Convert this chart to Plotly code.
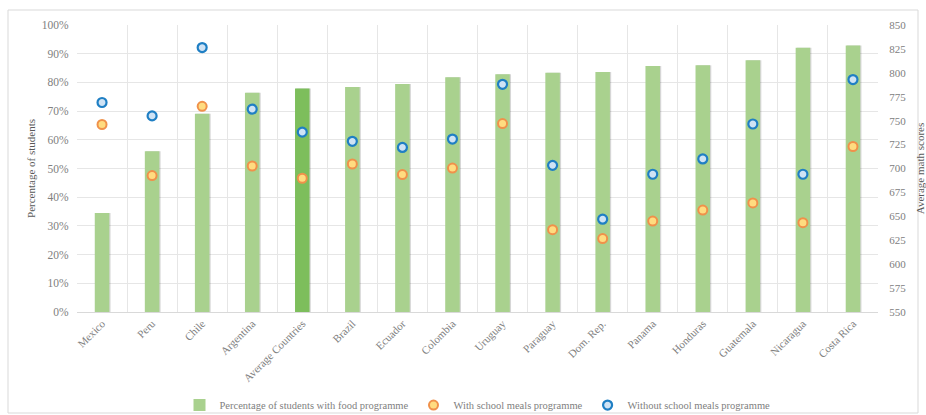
import plotly.graph_objects as go

countries = ["Mexico", "Peru", "Chile", "Argentina", "Average Countries", "Brazil", "Ecuador",
             "Colombia", "Uruguay", "Paraguay", "Dom. Rep.", "Panama", "Honduras", "Guatemala",
             "Nicaragua", "Costa Rica"]
pct_food = [34.5, 56.0, 69.1, 76.4, 77.9, 78.4, 79.4, 81.8, 82.8, 83.4, 83.6, 85.7, 86.0, 87.7, 92.1, 92.9]
with_meals = [746, 692.6, 765, 702.6, 689.8, 704.7, 693.6, 700.5, 747, 636, 626.7, 645, 656.6, 664, 643.4, 723]
without_meals = [769, 755, 826.4, 762, 738, 728.4, 722, 730.8, 788, 703.3, 647, 694, 710, 746.5, 694, 793]

left_ticks = list(range(0, 101, 10))
right_ticks = list(range(550, 851, 25))

bar_colors = ["#7DBE5C" if c == "Average Countries" else "#A9D18E" for c in countries]
FONT = "Liberation Serif"
GRAY = "#595959"
TICK = "#808080"

fig = go.Figure()
# soft shadow behind bars
fig.add_trace(go.Bar(x=countries, y=pct_food, width=0.29, offset=-0.12,
                     marker=dict(color="rgba(0,0,0,0.16)", line=dict(width=0)),
                     showlegend=False, hoverinfo="skip"))
fig.add_trace(go.Bar(x=countries, y=pct_food, width=0.29, offset=-0.145,
                     marker=dict(color=bar_colors, line=dict(width=0)),
                     name="Percentage of students with food programme"))
fig.add_trace(go.Scatter(x=countries, y=with_meals, yaxis="y2", mode="markers",
                         marker=dict(size=9, color="#FFDC80", line=dict(color="#F0914A", width=2)),
                         name="With school meals programme"))
fig.add_trace(go.Scatter(x=countries, y=without_meals, yaxis="y2", mode="markers",
                         marker=dict(size=9, color="#CFE3F5", line=dict(color="#1F7FC4", width=2.2)),
                         name="Without school meals programme"))

fig.update_layout(
    width=926, height=415,
    margin=dict(l=77, r=48, t=25, b=103, autoexpand=False),
    paper_bgcolor="white", plot_bgcolor="white",
    barmode="overlay",
    font=dict(family=FONT, size=11, color=GRAY),
    xaxis=dict(type="category", range=[-0.5, len(countries) - 0.5], tickson="boundaries",
               showgrid=True, gridcolor="#E6E6E6",
               tickangle=-45, ticks="", showline=True, linecolor="#D9D9D9", automargin=False,
               tickfont=dict(family=FONT, size=11, color=TICK)),
    yaxis=dict(range=[0, 100], tickvals=left_ticks, ticktext=[f"{v}%" for v in left_ticks],
               showgrid=True, gridcolor="#E6E6E6", zeroline=False, automargin=False,
               ticks="outside", ticklen=5, tickcolor="rgba(0,0,0,0)",
               tickfont=dict(family=FONT, size=11.5, color=TICK),
               title=dict(text="Percentage of students", standoff=4,
                          font=dict(family=FONT, size=11, color=GRAY))),
    yaxis2=dict(range=[550, 850], tickvals=right_ticks, overlaying="y", side="right",
                showgrid=False, zeroline=False, automargin=False,
                ticks="outside", ticklen=8, tickcolor="rgba(0,0,0,0)",
                tickfont=dict(family=FONT, size=11, color=TICK),
                title=dict(text="Average math scores", font=dict(family=FONT, size=11, color=GRAY))),
    legend=dict(orientation="h", x=0.5, xanchor="center", yref="container", y=0.024,
                yanchor="middle", font=dict(family=FONT, size=10.5, color=TICK), itemwidth=30,
                bgcolor="rgba(0,0,0,0)"),
    shapes=[dict(type="rect", xref="paper", yref="paper",
                 x0=(8 - 77) / 801, x1=(918 - 77) / 801,
                 y0=(312 - 413) / 287, y1=(312 - 10) / 287,
                 line=dict(color="#D9D9D9", width=1), layer="below")],
)

fig.write_html("out.html")
